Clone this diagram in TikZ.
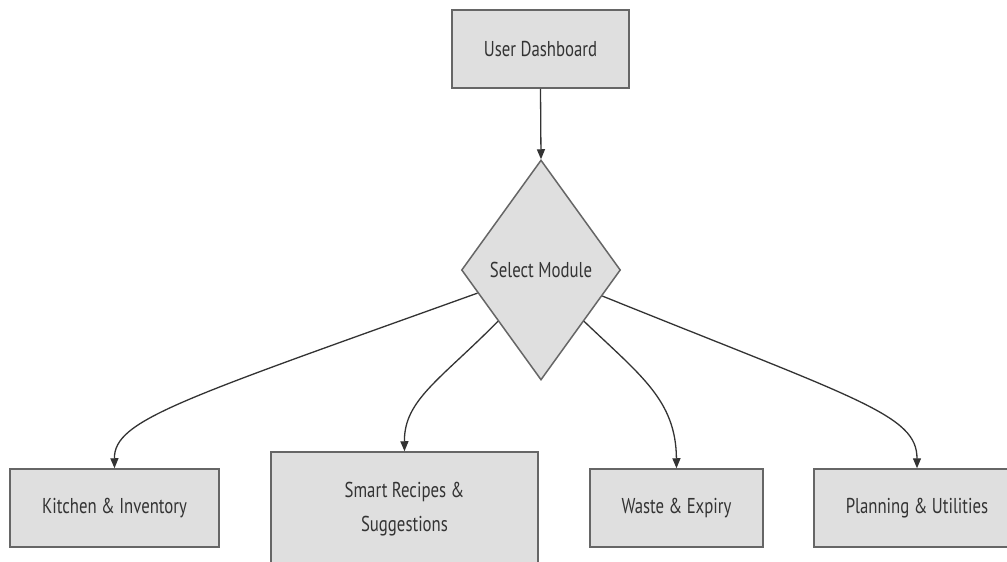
\documentclass[tikz,border=0pt]{standalone}
\usepackage{fontspec}
\setmainfont[FakeStretch=0.78]{PT Sans}
\usetikzlibrary{shapes.geometric,arrows.meta}
\definecolor{boxfill}{HTML}{DFDFDF}
\definecolor{boxline}{HTML}{666666}
\definecolor{txt}{HTML}{333333}
\definecolor{edge}{HTML}{333333}
\begin{document}
\begin{tikzpicture}[x=1pt,y=-1pt,
  every node/.style={text=txt,font=\fontsize{21.5}{34}\selectfont},
  procbox/.style={draw=boxline,fill=boxfill,line width=1.5pt,rectangle,inner sep=0pt,align=center},
  choice/.style={draw=boxline,fill=boxfill,line width=1.5pt,diamond,aspect=0.72,inner sep=0pt,minimum width=159pt,minimum height=220pt},
  arr/.style={draw=edge,line width=1.3pt,-{Triangle[length=10pt,width=8pt]}}]
\useasboundingbox (0,0) rectangle (1007,562);
\clip (0,0) rectangle (1007,562);
\fill[white] (0,0) rectangle (1007,562);
\node[procbox,minimum width=177pt,minimum height=78pt] (ud) at (540.5,49) {User Dashboard};
\node[choice] (sel) at (541,270) {Select Module};
\node[procbox,minimum width=209pt,minimum height=78pt] (kit) at (114.5,508) {Kitchen \& Inventory};
\node[procbox,minimum width=267pt,minimum height=114pt] (rec) at (404.5,509) {Smart Recipes \&\\Suggestions};
\node[procbox,minimum width=173pt,minimum height=78pt] (was) at (676.5,508) {Waste \& Expiry};
\node[procbox,minimum width=206pt,minimum height=78pt] (pla) at (917,508) {Planning \& Utilities};
\draw[arr] (ud.south) -- (sel.north);
\draw[arr] (sel.200) .. controls (180,400) and (114,420) .. (kit.north);
\draw[arr] (sel.230) .. controls (440,380) and (404,400) .. (rec.north);
\draw[arr] (sel.310) .. controls (640,375) and (676,400) .. (was.north);
\draw[arr] (sel.337) .. controls (860,400) and (917,415) .. (pla.north);
\end{tikzpicture}
\end{document}
